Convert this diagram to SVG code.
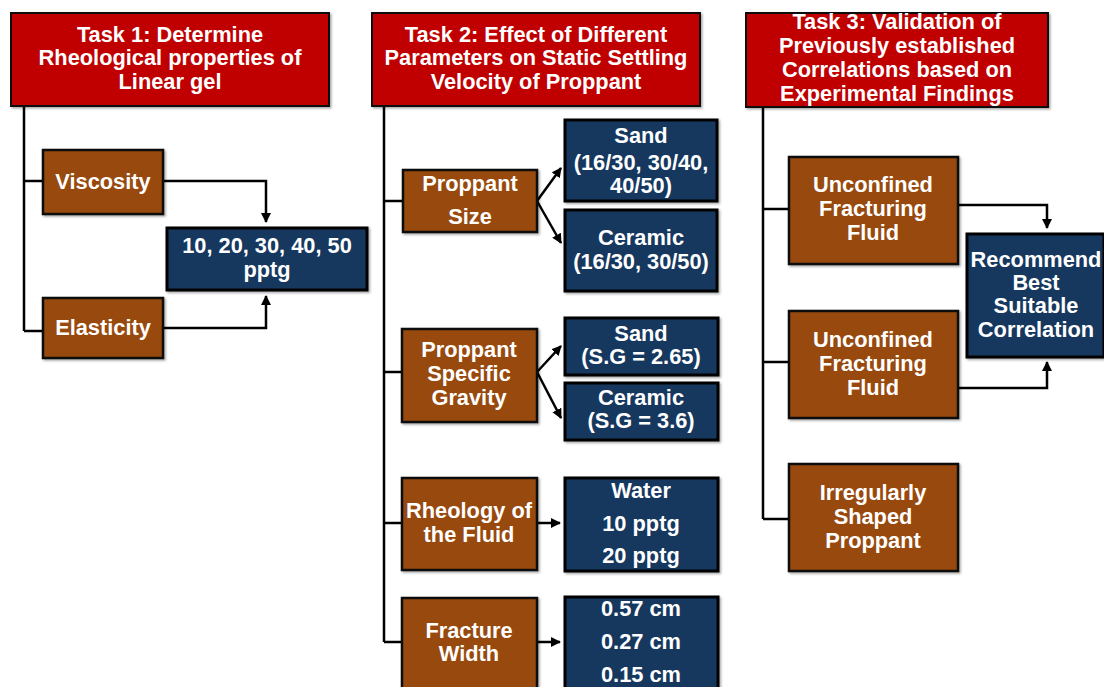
<svg xmlns="http://www.w3.org/2000/svg" width="1104" height="687" viewBox="0 0 1104 687">
<defs>
<marker id="ah2" viewBox="0 0 10 10" refX="9" refY="5" markerWidth="10" markerHeight="10" orient="auto" markerUnits="userSpaceOnUse">
<path d="M0,0 L10,5 L0,10 z" fill="#000"/>
</marker>
<filter id="sh" x="-5%" y="-5%" width="115%" height="115%">
<feDropShadow dx="1.5" dy="1.5" stdDeviation="1.2" flood-color="#000" flood-opacity="0.35"/>
</filter>
</defs>
<style>
.red{fill:#C00000;stroke:#111;stroke-width:2}
.brn{fill:#984807;stroke:#111;stroke-width:2.5}
.blu{fill:#17375E;stroke:#000;stroke-width:3}
text{font-family:"Liberation Sans",Arial,sans-serif;font-weight:bold;font-size:21.8px;fill:#fff;text-anchor:middle}
.c{fill:none;stroke:#000;stroke-width:2.5}
</style>
<rect width="1104" height="687" fill="#fff"/>

<g id="connectors">
<path class="c" d="M24,106 V331 M24,181 H43 M24,331 H43"/>
<path class="c" d="M163,181 H266 V222" marker-end="url(#ah2)"/>
<path class="c" d="M163,328 H266 V296" marker-end="url(#ah2)"/>
<path class="c" d="M384,106 V642 M384,201 H403 M384,372 H402 M384,523 H402 M384,642 H402"/>
<path class="c" d="M537,201 L561,168" marker-end="url(#ah2)"/>
<path class="c" d="M537,201 L561,243" marker-end="url(#ah2)"/>
<path class="c" d="M537,372 L561,346" marker-end="url(#ah2)"/>
<path class="c" d="M537,372 L561,418" marker-end="url(#ah2)"/>
<path class="c" d="M537,523 H560" marker-end="url(#ah2)"/>
<path class="c" d="M537,642 H560" marker-end="url(#ah2)"/>
<path class="c" d="M763,107 V519 M763,209 H789 M763,362 H789 M763,519 H789"/>
<path class="c" d="M958,205 H1047 V228" marker-end="url(#ah2)"/>
<path class="c" d="M955,388 H1047 V362" marker-end="url(#ah2)"/>
</g>

<g id="task1">
<rect class="red" x="11" y="13" width="318" height="93" filter="url(#sh)"/>
<text x="170" y="42">Task 1: Determine</text>
<text x="170" y="65">Rheological properties of</text>
<text x="170" y="89">Linear gel</text>
</g>
<g id="viscosity">
<rect class="brn" x="43" y="150" width="120" height="64" filter="url(#sh)"/>
<text x="103" y="189">Viscosity</text>
</g>
<g id="elasticity">
<rect class="brn" x="43" y="298" width="120" height="60" filter="url(#sh)"/>
<text x="103" y="335">Elasticity</text>
</g>
<g id="conc">
<rect class="blu" x="167" y="228" width="200" height="62" filter="url(#sh)"/>
<text x="267" y="253">10, 20, 30, 40, 50</text>
<text x="267" y="277">pptg</text>
</g>

<g id="task2">
<rect class="red" x="372" y="13" width="328" height="93" filter="url(#sh)"/>
<text x="536" y="42">Task 2: Effect of Different</text>
<text x="536" y="65">Parameters on Static Settling</text>
<text x="536" y="89">Velocity of Proppant</text>
</g>
<g id="psize">
<rect class="brn" x="403" y="170" width="134" height="62" filter="url(#sh)"/>
<text x="470" y="191">Proppant</text>
<text x="470" y="224">Size</text>
</g>
<g id="sand1">
<rect class="blu" x="565" y="120" width="152" height="81" filter="url(#sh)"/>
<text x="641" y="143">Sand</text>
<text x="641" y="170">(16/30, 30/40,</text>
<text x="641" y="193">40/50)</text>
</g>
<g id="ceramic1">
<rect class="blu" x="565" y="210" width="152" height="81" filter="url(#sh)"/>
<text x="641" y="245">Ceramic</text>
<text x="641" y="269">(16/30, 30/50)</text>
</g>
<g id="psg">
<rect class="brn" x="402" y="329" width="135" height="93" filter="url(#sh)"/>
<text x="469" y="357">Proppant</text>
<text x="469" y="381">Specific</text>
<text x="469" y="405">Gravity</text>
</g>
<g id="sand2">
<rect class="blu" x="565" y="318" width="153" height="57" filter="url(#sh)"/>
<text x="641" y="341">Sand</text>
<text x="641" y="364">(S.G = 2.65)</text>
</g>
<g id="ceramic2">
<rect class="blu" x="565" y="383" width="153" height="57" filter="url(#sh)"/>
<text x="641" y="405">Ceramic</text>
<text x="641" y="428">(S.G = 3.6)</text>
</g>
<g id="rheo">
<rect class="brn" x="402" y="478" width="135" height="92" filter="url(#sh)"/>
<text x="469" y="518">Rheology of</text>
<text x="469" y="542">the Fluid</text>
</g>
<g id="fluids">
<rect class="blu" x="565" y="478" width="153" height="93" filter="url(#sh)"/>
<text x="641" y="498">Water</text>
<text x="641" y="531">10 pptg</text>
<text x="641" y="563">20 pptg</text>
</g>
<g id="fwidth">
<rect class="brn" x="402" y="598" width="135" height="100" filter="url(#sh)"/>
<text x="469" y="638">Fracture</text>
<text x="469" y="661">Width</text>
</g>
<g id="widths">
<rect class="blu" x="565" y="597" width="153" height="100" filter="url(#sh)"/>
<text x="641" y="616">0.57 cm</text>
<text x="641" y="649">0.27 cm</text>
<text x="641" y="682">0.15 cm</text>
</g>

<g id="task3">
<rect class="red" x="746" y="13" width="302" height="94" filter="url(#sh)"/>
<text x="897" y="29">Task 3: Validation of</text>
<text x="897" y="53">Previously established</text>
<text x="897" y="77">Correlations based on</text>
<text x="897" y="101">Experimental Findings</text>
</g>
<g id="unconf1">
<rect class="brn" x="789" y="157" width="169" height="107" filter="url(#sh)"/>
<text x="873" y="192">Unconfined</text>
<text x="873" y="216">Fracturing</text>
<text x="873" y="240">Fluid</text>
</g>
<g id="unconf2">
<rect class="brn" x="789" y="311" width="169" height="107" filter="url(#sh)"/>
<text x="873" y="347">Unconfined</text>
<text x="873" y="371">Fracturing</text>
<text x="873" y="395">Fluid</text>
</g>
<g id="irregular">
<rect class="brn" x="789" y="464" width="169" height="107" filter="url(#sh)"/>
<text x="873" y="500">Irregularly</text>
<text x="873" y="524">Shaped</text>
<text x="873" y="548">Proppant</text>
</g>
<g id="recommend">
<rect class="blu" x="967" y="234" width="137" height="123" filter="url(#sh)"/>
<text x="1036" y="267">Recommend</text>
<text x="1036" y="290">Best</text>
<text x="1036" y="313">Suitable</text>
<text x="1036" y="337">Correlation</text>
</g>
</svg>
